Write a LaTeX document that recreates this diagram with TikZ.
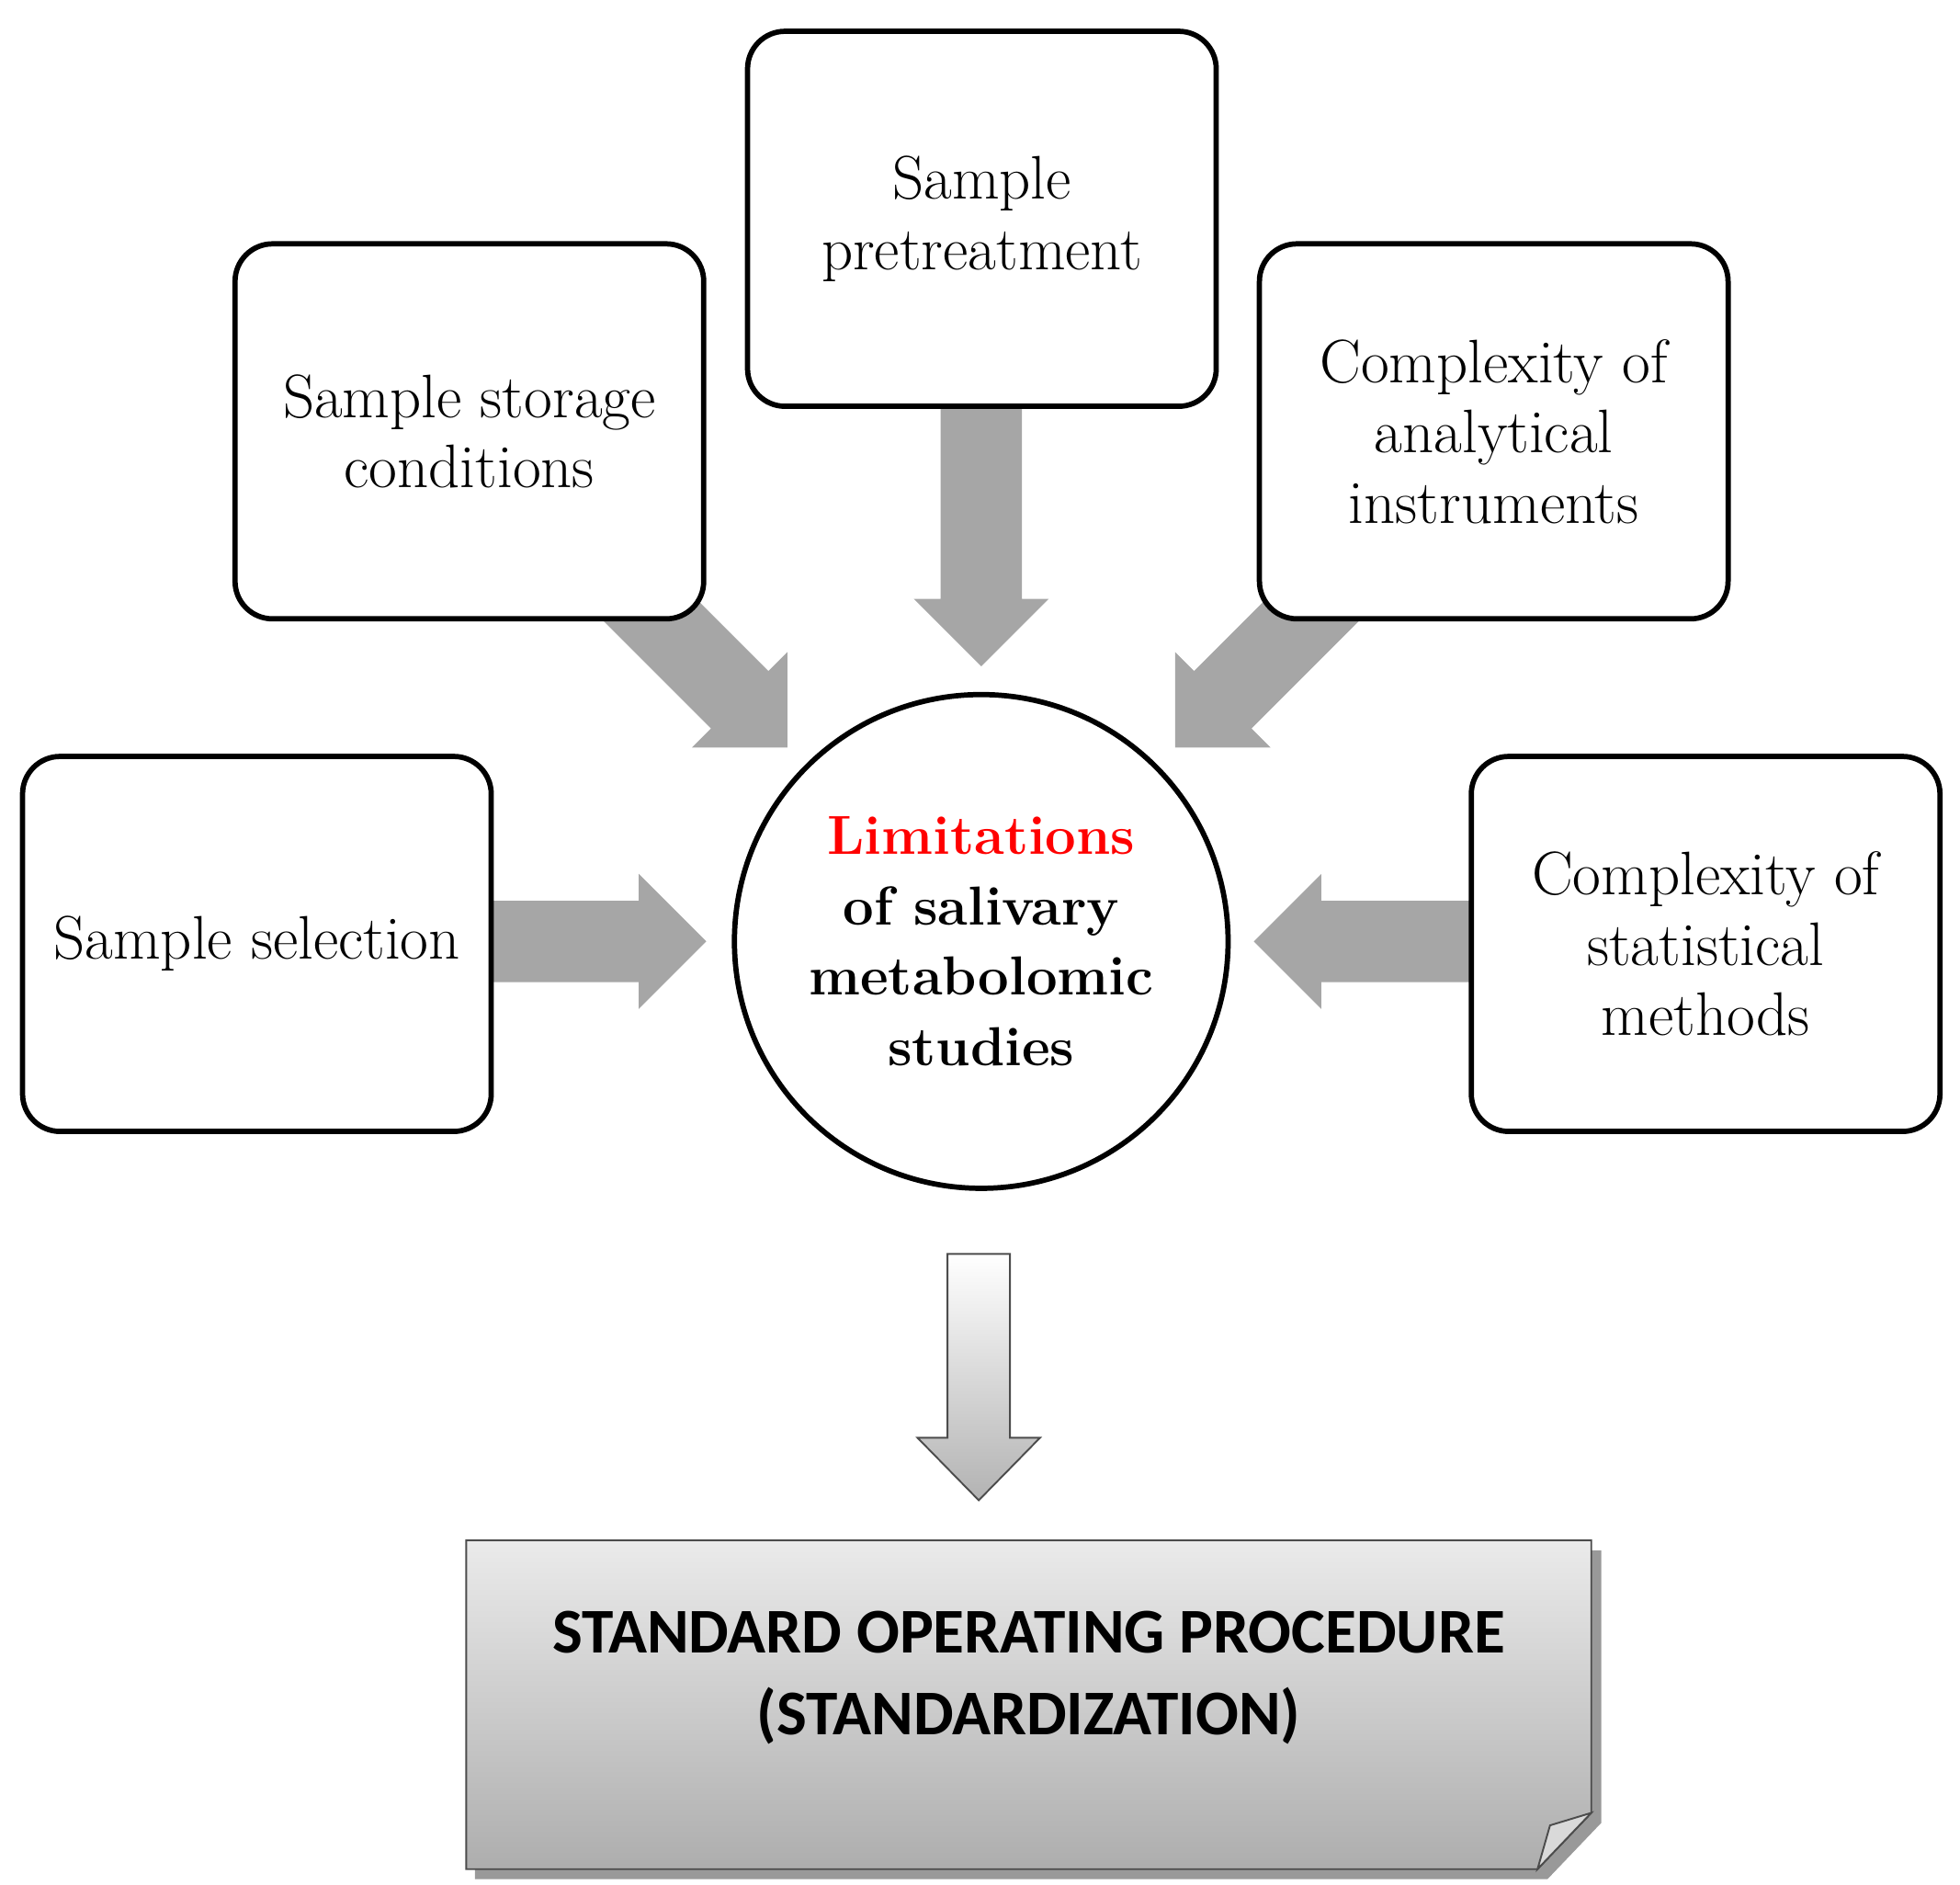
\documentclass[tikz,border=0pt]{standalone}
\usepackage{fontspec}
\newfontfamily\sopfont{Carlito}
\usetikzlibrary{calc}
\begin{document}
\begin{tikzpicture}[x=0.02cm,y=-0.02cm,
  box/.style={draw=black,line width=2.4pt,rounded corners=0.6cm,fill=white,align=center,
    minimum width=7.5cm,minimum height=6cm,font=\fontsize{28}{32}\selectfont},
  garrow/.style={fill=black!35,draw=none}]
\useasboundingbox (0,0) rectangle (1568,1507);
% gray arrows (drawn first)
\newcommand{\grayarrow}[4]{% x y angle length
  \begin{scope}[shift={(#1,#2)},rotate=#3]
   \fill[black!35] (0,-32.5) -- ({#4-54},-32.5) -- ({#4-54},-54) -- (#4,0) -- ({#4-54},54) -- ({#4-54},32.5) -- (0,32.5) -- cycle;
  \end{scope}}
\grayarrow{785}{300}{-90}{233}
\grayarrow{480}{448}{-45}{212}
\grayarrow{1090}{448}{-135}{212}
\grayarrow{370}{753}{0}{195}
\grayarrow{1200}{753}{180}{197}
% boxes
\node[box] (pre) at (785.5,175) {Sample\\pretreatment};
\node[box] (sto) at (375.5,345) {Sample storage\\conditions};
\node[box] (ana) at (1195,345) {Complexity of\\analytical\\instruments};
\node[box] (sel) at (205.5,755) {Sample selection};
\node[box] (sta) at (1364.5,755) {Complexity of\\statistical\\methods};
\node[circle,draw=black,line width=2.4pt,fill=white,minimum size=7.9cm,align=center,
  font=\bfseries\fontsize{25}{32}\selectfont] (lim) at (785,753)
  {\textcolor{red}{Limitations}\\of salivary\\metabolomic\\studies};
% outline arrow
\shade[top color=white,bottom color=black!30,draw=black!70,line width=0.8pt]
  (758,1003) -- (808,1003) -- (808,1150) -- (832,1150) -- (783,1200) -- (734,1150) -- (758,1150) -- cycle;
\coordinate (arr) at (783,1200);
% SOP box
\fill[black!40] (380,1240) -- (1281,1240) -- (1281,1458) -- (1238,1503) -- (380,1503) -- cycle;
\shade[top color=black!8,bottom color=black!32,draw=black!70,line width=0.8pt]
  (373,1232) -- (1273,1232) -- (1273,1450) -- (1230,1495) -- (373,1495) -- cycle;
\fill[black!15,draw=black!70,line width=0.8pt] (1273,1450) -- (1240,1460) -- (1230,1495) -- cycle;
\node[font=\sopfont\bfseries\fontsize{29}{37}\selectfont,align=center] (sop) at (823,1342)
  {STANDARD OPERATING PROCEDURE\\(STANDARDIZATION)};
\end{tikzpicture}
\end{document}
